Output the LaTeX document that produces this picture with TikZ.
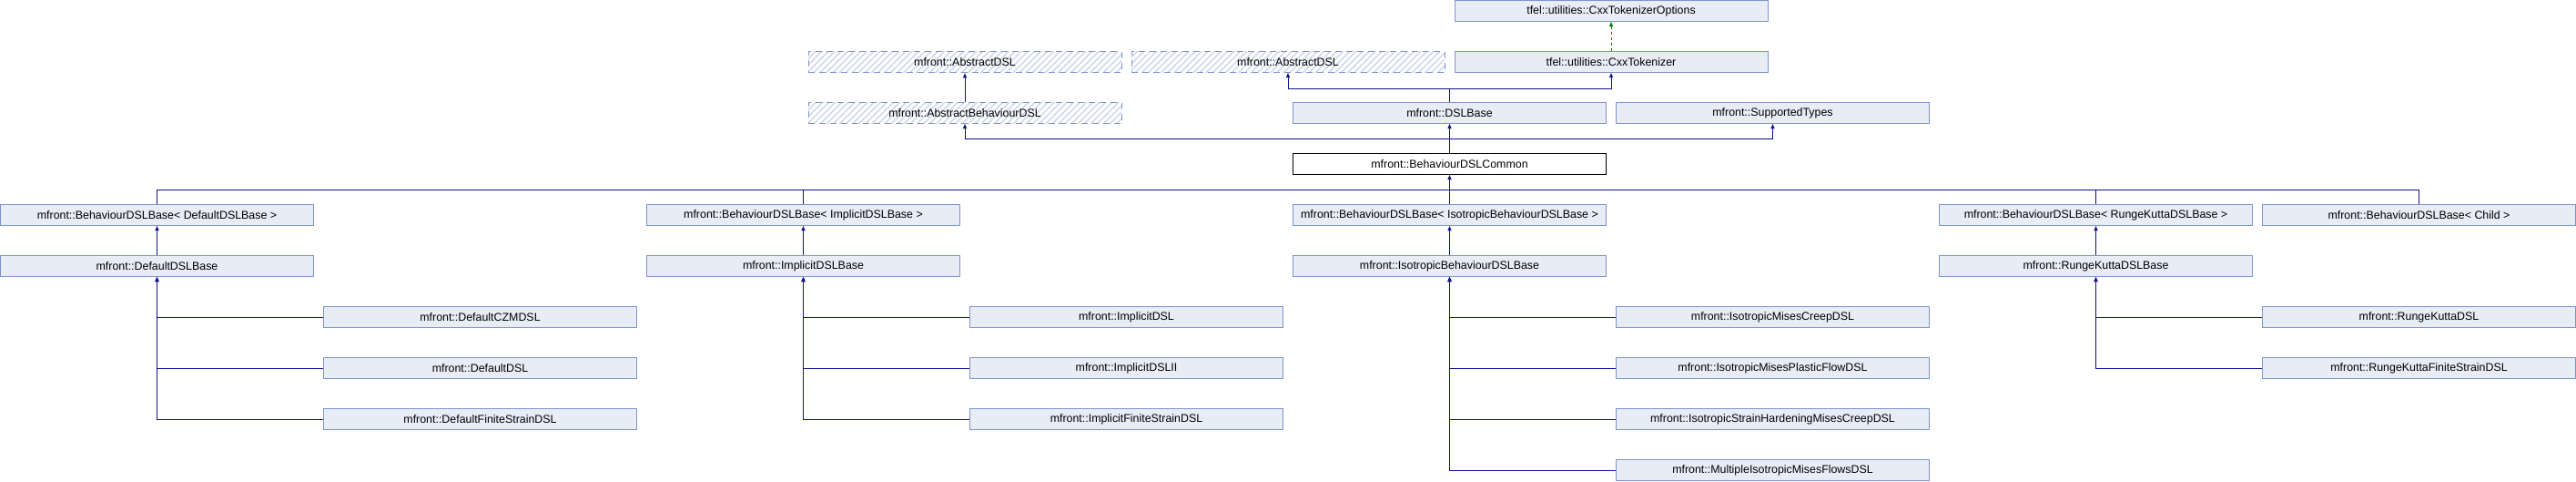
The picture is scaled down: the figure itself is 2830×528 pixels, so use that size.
\documentclass[tikz,border=0pt]{standalone}
\usepackage{fontspec}
\setmainfont{Liberation Sans}
\usetikzlibrary{arrows.meta,patterns.meta}
\definecolor{boxfill}{RGB}{232,236,244}
\definecolor{boxline}{RGB}{124,149,206}
\definecolor{edgecol}{RGB}{16,16,140}
\definecolor{hatchcol}{RGB}{208,215,232}
\definecolor{usecol}{RGB}{0,128,0}
\begin{document}
\begin{tikzpicture}[x=1pt,y=-1pt,
  base/.style={line width=1pt,minimum width=344pt,minimum height=23pt,inner sep=0pt,font=\fontsize{12.4}{14}\selectfont},
  cls/.style={base,draw=boxline,fill=boxfill},
  cur/.style={base,draw=black,fill=white},
  ext/.style={base,draw=boxline,dash pattern=on 7pt off 5pt,pattern={Lines[angle=45,distance=5pt,line width=1.6pt]},pattern color=hatchcol},
  edge/.style={draw=edgecol,line width=1pt},
  inh/.style={edge,-{Triangle[length=5pt,width=4pt]}},
  use/.style={draw=usecol,line width=1pt,dash pattern=on 3pt off 3pt,-{Triangle[length=5pt,width=4pt]}}]
\useasboundingbox (0,0) rectangle (2830,528);
% row 0
\node[cls] (opts) at (1770,12) {tfel::utilities::CxxTokenizerOptions};
% row 1
\node[ext] (adsl1) at (1060,68) {mfront::AbstractDSL};
\node[ext] (adsl2) at (1415,68) {mfront::AbstractDSL};
\node[cls] (tok) at (1770,68) {tfel::utilities::CxxTokenizer};
% row 2
\node[ext] (abdsl) at (1060,124) {mfront::AbstractBehaviourDSL};
\node[cls] (dslbase) at (1592.5,124) {mfront::DSLBase};
\node[cls] (suptypes) at (1947.5,124) {mfront::SupportedTypes};
% row 3
\node[cur] (common) at (1592.5,180) {mfront::BehaviourDSLCommon};
% row 4
\node[cls] (bdefault) at (172.5,236) {mfront::BehaviourDSLBase< DefaultDSLBase >};
\node[cls] (bimplicit) at (882.5,236) {mfront::BehaviourDSLBase< ImplicitDSLBase >};
\node[cls] (biso) at (1592.5,236) {mfront::BehaviourDSLBase< IsotropicBehaviourDSLBase >};
\node[cls] (brk) at (2302.5,236) {mfront::BehaviourDSLBase< RungeKuttaDSLBase >};
\node[cls] (bchild) at (2657.5,236) {mfront::BehaviourDSLBase< Child >};
% row 5
\node[cls] (defbase) at (172.5,292) {mfront::DefaultDSLBase};
\node[cls] (impbase) at (882.5,292) {mfront::ImplicitDSLBase};
\node[cls] (isobase) at (1592.5,292) {mfront::IsotropicBehaviourDSLBase};
\node[cls] (rkbase) at (2302.5,292) {mfront::RungeKuttaDSLBase};
% row 6
\node[cls] (czm) at (527.5,348) {mfront::DefaultCZMDSL};
\node[cls] (impdsl) at (1237.5,348) {mfront::ImplicitDSL};
\node[cls] (isocreep) at (1947.5,348) {mfront::IsotropicMisesCreepDSL};
\node[cls] (rkdsl) at (2657.5,348) {mfront::RungeKuttaDSL};
% row 7
\node[cls] (defdsl) at (527.5,404) {mfront::DefaultDSL};
\node[cls] (impdsl2) at (1237.5,404) {mfront::ImplicitDSLII};
\node[cls] (isoplastic) at (1947.5,404) {mfront::IsotropicMisesPlasticFlowDSL};
\node[cls] (rkfs) at (2657.5,404) {mfront::RungeKuttaFiniteStrainDSL};
% row 8
\node[cls] (deffs) at (527.5,460) {mfront::DefaultFiniteStrainDSL};
\node[cls] (impfs) at (1237.5,460) {mfront::ImplicitFiniteStrainDSL};
\node[cls] (isohard) at (1947.5,460) {mfront::IsotropicStrainHardeningMisesCreepDSL};
% row 9
\node[cls] (multi) at (1947.5,516) {mfront::MultipleIsotropicMisesFlowsDSL};
% junctions
\coordinate (j1) at (1592.5,97);
\coordinate (j2) at (1592.5,152.5);
\coordinate (j3) at (1592.5,208);
% edges
\draw[use] (tok.north) -- (opts.south);
\draw[edge] (dslbase.north) -- (j1);
\draw[inh] (j1) -| (adsl2.south);
\draw[inh] (j1) -| (tok.south);
\draw[inh] (abdsl.north) -- (adsl1.south);
\draw[edge] (common.north) -- (j2);
\draw[inh] (j2) -| (abdsl.south);
\draw[inh] (j2) -- (dslbase.south);
\draw[inh] (j2) -| (suptypes.south);
\draw[inh] (j3) -- (common.south);
\draw[edge] (bdefault.north) |- (j3);
\draw[edge] (bimplicit.north) |- (j3);
\draw[edge] (biso.north) -- (j3);
\draw[edge] (brk.north) |- (j3);
\draw[edge] (bchild.north) |- (j3);
\draw[inh] (defbase.north) -- (bdefault.south);
\draw[inh] (impbase.north) -- (bimplicit.south);
\draw[inh] (isobase.north) -- (biso.south);
\draw[inh] (rkbase.north) -- (brk.south);
\draw[inh] (czm.west) -| (defbase.south);
\draw[inh] (defdsl.west) -| (defbase.south);
\draw[inh] (deffs.west) -| (defbase.south);
\draw[inh] (impdsl.west) -| (impbase.south);
\draw[inh] (impdsl2.west) -| (impbase.south);
\draw[inh] (impfs.west) -| (impbase.south);
\draw[inh] (isocreep.west) -| (isobase.south);
\draw[inh] (isoplastic.west) -| (isobase.south);
\draw[inh] (isohard.west) -| (isobase.south);
\draw[inh] (multi.west) -| (isobase.south);
\draw[inh] (rkdsl.west) -| (rkbase.south);
\draw[inh] (rkfs.west) -| (rkbase.south);
\end{tikzpicture}
\end{document}
